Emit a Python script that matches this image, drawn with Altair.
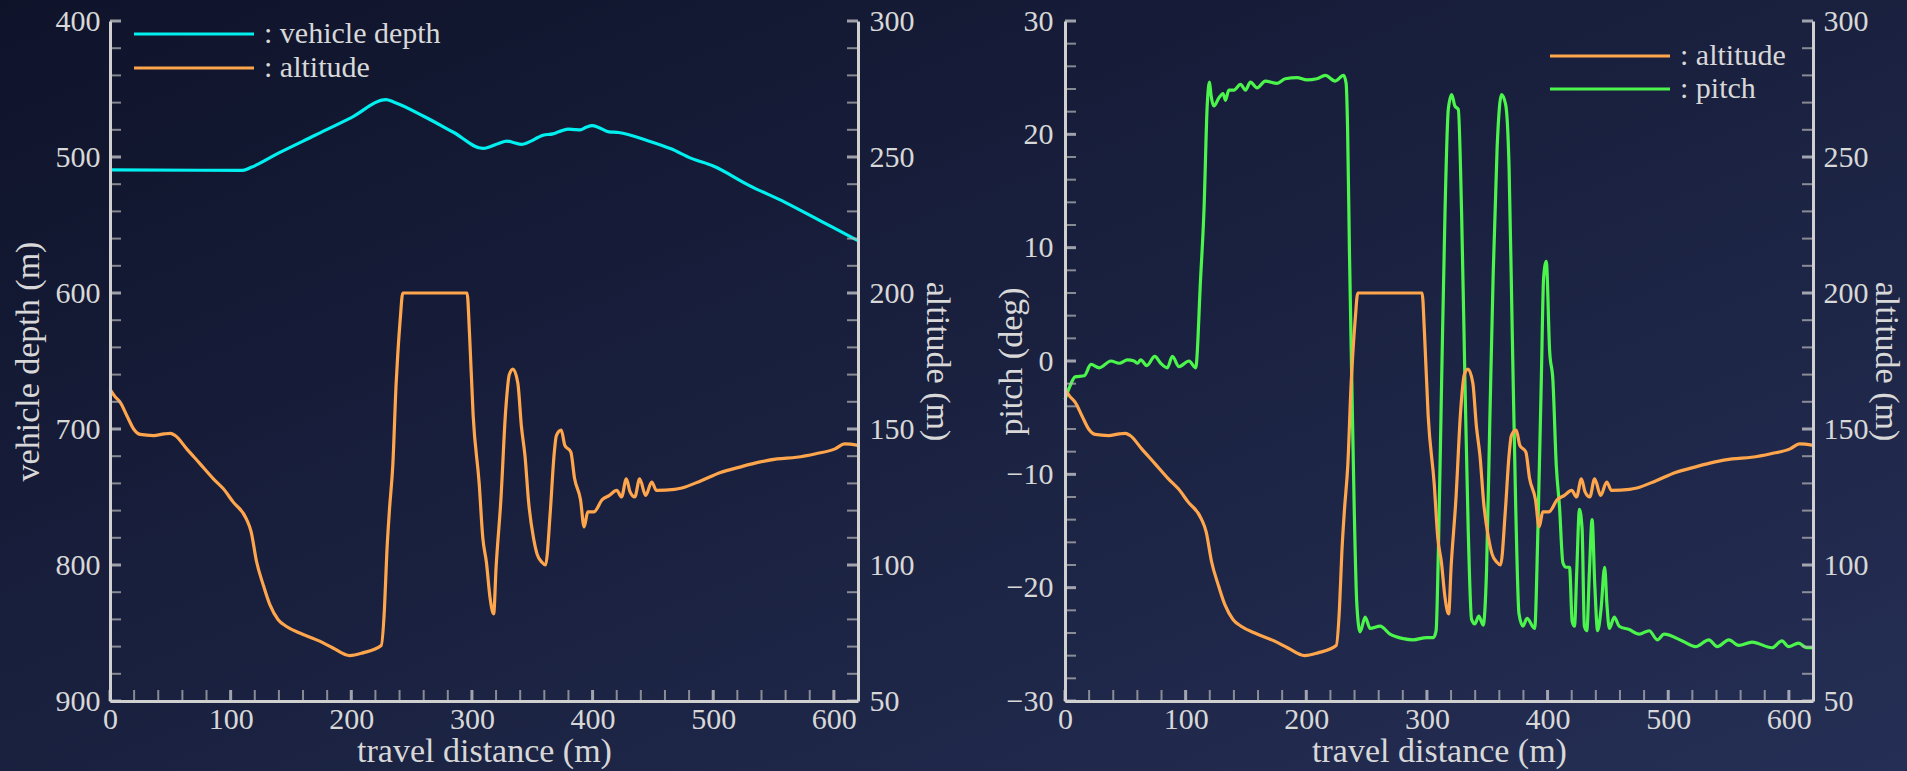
import altair as alt
import pandas as pd

# ---- series data -------------------------------------------------------
DEPTH_DIST = [0, 110, 117, 140, 170, 200, 228.8, 235, 260, 285, 309, 315, 322, 329,
              335, 341, 349, 355, 359, 367, 372, 379.6, 385, 389.6, 395, 399.5, 405.5,
              413.6, 421.6, 445.7, 465, 481.9, 500, 530, 560, 590, 618.3, 620]
DEPTH = [509.5, 509.8, 507.6, 497, 484, 471, 457.8, 459.5, 470, 482, 493.7, 492.4, 490,
         488.3, 489.5, 490.7, 488.3, 485.5, 484, 483, 481.5, 479.5, 479.8, 480, 478, 477,
         478.5, 481.5, 482, 488, 494, 501, 506.6, 521, 533.5, 547.5, 560.7, 561.5]

ALT_DIST = [0, 4, 8.5, 14, 19.6, 25, 36, 45, 50, 54, 63.6, 74.7, 85.7, 94, 102, 113, 117,
            121.5, 127, 132.5, 139.4, 146.3, 157.3, 173.8, 184.8, 198.6, 209.6, 224.8,
            227.5, 229.5, 231.7, 234.4, 237.2, 238.6, 240.5, 242.7, 296, 298, 301, 306,
            309, 312, 315, 318, 320, 324, 328, 331, 334, 338, 341, 344, 347, 351, 354,
            358, 361, 365, 368, 370, 374, 377, 382, 385, 390, 393, 396, 401, 408, 414,
            420, 424, 428, 431, 435, 439, 444, 449, 453, 468, 474, 490, 506, 522, 538,
            553, 569, 585, 601, 609, 620]
ALTITUDE = [164.6, 162, 159.8, 154.9, 150, 148, 147.6, 148.2, 148.4, 147.6, 142.7, 137.2,
            131.7, 128, 123.2, 117, 112.2, 101.2, 92.7, 85.4, 79.9, 77.4, 75, 72, 69.5,
            66.7, 67.7, 70.4, 84, 104.9, 120.7, 136.6, 167, 178, 190, 200, 200, 185, 155,
            130, 110, 101, 88, 82, 99, 124, 157, 170, 172, 167, 151, 140, 123, 110, 104,
            101, 100, 120, 140, 147.6, 149.6, 144, 141.5, 132, 124, 114, 119.5, 119.5,
            124, 125.6, 127.4, 125, 131.7, 127, 125, 131.7, 125.6, 130.5, 127.4, 127.8,
            128.3, 131, 134, 136, 137.8, 139, 139.6, 140.9, 142.7, 144.5, 144]

PITCH_DIST = [0, 4.2, 8.3, 16, 21.5, 28.4, 38, 45, 51.8, 57.3, 60, 62.8, 67.8, 74.4, 79.3,
              84.8, 89, 94.5, 102.8, 108.3, 112.4, 115.2, 117.9, 119.8, 121, 123.4, 127.5,
              131, 133, 135.8, 140, 145.5, 149.6, 153.7, 159.2, 166, 175.8, 182.6, 192.3,
              200.5, 208.8, 215.7, 224, 230.9, 233, 234.2, 235.8, 237.7, 239.7, 241.9,
              244.6, 248.8, 252.9, 261.2, 269.4, 280.4, 288.7, 299.7, 305.4, 307.6, 309.5,
              312.2, 315, 317.7, 320.5, 323.2, 326, 328.7, 331.5, 334.2, 337, 339.7, 343,
              346.6, 349.4, 352.1, 354.9, 358.2, 361.8, 365.3, 368.1, 370.8, 373.6, 376.3,
              379.6, 382.9, 389.3, 392, 394.8, 396.7, 398.9, 401.7, 404.4, 407.2, 409.9,
              412.7, 415.4, 418.2, 420.4, 422.3, 424.2, 426.4, 428.6, 430.5, 432.5, 434.7,
              436.9, 439.1, 441.5, 444.3, 447.3, 449.2, 451.2, 455.3, 459.4, 467.7, 475.9,
              484.2, 491, 496.6, 511.7, 522.7, 533.7, 540.6, 550.2, 558.5, 569.5, 586,
              594.2, 599.7, 608, 614.9, 620]
PITCH = [-3.4, -2.2, -1.4, -1.3, -0.3, -0.6, 0, -0.2, 0.1, 0, -0.2, 0.1, -0.4, 0.4, -0.2,
         -0.6, 0.4, -0.5, 0, -0.6, 7.3, 13.3, 22.6, 24.6, 23.5, 22.5, 23.2, 23.6, 23, 23.9,
         23.9, 24.4, 23.9, 24.6, 24.1, 24.7, 24.5, 24.9, 25, 24.8, 24.9, 25.2, 24.7, 25.2,
         24.5, 20.7, 9.5, -1.7, -12.9, -21.5, -23.9, -22.6, -23.6, -23.4, -24.1, -24.5,
         -24.6, -24.4, -24.4, -23.8, -16.7, -1.7, 13.2, 22.2, 23.5, 22.5, 22.2, 13.2, -1.7,
         -14.8, -22.8, -23.2, -22.5, -23.3, -18.5, -5.4, 7.6, 18.9, 23.5, 22.6, 17, 2,
         -12.9, -22.3, -23.4, -22.7, -23.6, -14.8, -1.7, 7.3, 8.8, 0.9, -1.7, -9.2, -12.9,
         -17.8, -18.2, -18.2, -23, -23.4, -18.5, -13.1, -14.8, -23.4, -23.8, -18.5, -14,
         -19.7, -23.8, -21.9, -18.2, -21.5, -23.6, -22.6, -23.4, -23.7, -24.1, -23.8, -24.6,
         -24.1, -24.7, -25.2, -24.6, -25.2, -24.6, -25.1, -24.8, -25.3, -24.7, -25.2, -24.9,
         -25.3, -25.3]

# ---- axis tick values ---------------------------------------------------
X_MAJOR = [0, 100, 200, 300, 400, 500, 600]
X_MINOR = [20, 40, 60, 80, 120, 140, 160, 180, 220, 240, 260, 280, 320, 340, 360, 380,
           420, 440, 460, 480, 520, 540, 560, 580, 620]
DEPTH_MAJOR = [400, 500, 600, 700, 800, 900]
DEPTH_MINOR = [v for v in range(420, 900, 20) if v % 100]
ALT_MAJOR = [50, 100, 150, 200, 250, 300]
ALT_MINOR = [v for v in range(60, 300, 10) if v % 50]
PITCH_MAJOR = [-30, -20, -10, 0, 10, 20, 30]
PITCH_MINOR = [v for v in range(-28, 30, 2) if v % 10]

# ---- styling -----------------------------------------------------------
W, H = 748, 680
FONT = "Liberation Serif"
TXT = "#D8D8D8"
AXC = "#D0D0D0"
C_DEPTH, C_ALT, C_PITCH = "#00F0F0", "#FFA64D", "#4CF54C"

XS = alt.Scale(domain=[0, 620], nice=False, zero=False)
S_DEPTH = alt.Scale(domain=[400, 900], reverse=True, nice=False, zero=False)
S_ALT = alt.Scale(domain=[50, 300], nice=False, zero=False)
S_PITCH = alt.Scale(domain=[-30, 30], nice=False, zero=False)


def axis(title, values, orient, extent, title_pad, label_pad, title_size=34):
    return alt.Axis(
        title=title, values=values, orient=orient, ticks=False, grid=False,
        domainColor=AXC, domainWidth=3, labelColor=TXT, labelFont=FONT, labelFontSize=30,
        labelPadding=label_pad, labelFlush=False, labelOverlap=False,
        titleColor=TXT, titleFont=FONT, titleFontSize=title_size, titleFontWeight="normal",
        titlePadding=title_pad, minExtent=extent, maxExtent=extent, zindex=1,
    )


# one shared x axis definition, given to every layer that uses the x scale
X_AXIS = axis("travel distance (m)", X_MAJOR, "bottom", 31, 2, 3)

# legend key: a 120 px horizontal stroke drawn from a custom path
KEY_PATH = "M-1,0L7,0"


def legend(x, y, row_pad):
    return alt.Legend(
        orient="none", legendX=x, legendY=y, title=None, symbolType=KEY_PATH,
        symbolSize=900, symbolStrokeWidth=3.2, labelFont=FONT, labelFontSize=30,
        labelColor=TXT, labelExpr="': ' + datum.label", labelLimit=400,
        rowPadding=row_pad, padding=0, labelOffset=98, zindex=1,
    )


def backdrop():
    # diagonal gradient spanning the whole figure, drawn first
    grad = alt.LinearGradient(
        gradient="linear",
        stops=[alt.GradientStop(color="#0F132A", offset=0),
               alt.GradientStop(color="#252F55", offset=1)],
        x1=0, y1=0, x2=1, y2=1,
    )
    return alt.Chart(alt.Data(values=[{}])).mark_rect(fill=grad).encode(
        x=alt.value(-110), x2=alt.value(1797), y=alt.value(-21), y2=alt.value(750)
    )


def yticks(values, scale, side, major):
    xpos = 5.5 if side == "left" else W - 5.5
    return alt.Chart(pd.DataFrame({"v": values})).mark_tick(
        orient="horizontal", size=11, thickness=3 if major else 2,
        color="#DADADA" if major else "#B8B8B8",
    ).encode(y=alt.Y("v:Q", scale=scale, axis=None), x=alt.value(xpos))


def xticks(values, major):
    return alt.Chart(pd.DataFrame({"v": values})).mark_tick(
        orient="vertical", size=11, thickness=3 if major else 2,
        color="#DADADA" if major else "#B8B8B8",
    ).encode(x=alt.X("v:Q", scale=XS, axis=X_AXIS), y=alt.value(H - 5.5))


def series_line(dist, vals, name, yscale, yaxis, cscale, leg):
    df = pd.DataFrame({"dist": dist, "value": vals, "series": name})
    return alt.Chart(df).mark_line(strokeWidth=3.2, interpolate="monotone").encode(
        x=alt.X("dist:Q", scale=XS, axis=X_AXIS),
        y=alt.Y("value:Q", scale=yscale, axis=yaxis),
        color=alt.Color("series:N", scale=cscale, legend=leg),
    )


# Every y-using layer carries an explicit scale domain, so the independent
# y scales of the tick layers coincide exactly with the scale of their series.

# ---- left panel: vehicle depth and altitude ----------------------------
cs_left = alt.Scale(domain=["vehicle depth", "altitude"], range=[C_DEPTH, C_ALT])
leg_left = legend(22, -4, 2)

left = alt.layer(
    backdrop(),
    series_line(DEPTH_DIST, DEPTH, "vehicle depth", S_DEPTH,
                axis("vehicle depth (m)", DEPTH_MAJOR, "left", 52, 13, 10),
                cs_left, leg_left),
    series_line(ALT_DIST, ALTITUDE, "altitude", S_ALT,
                axis("altitude (m)", ALT_MAJOR, "right", 55, 6, 11),
                cs_left, leg_left),
    yticks(DEPTH_MAJOR, S_DEPTH, "left", True),
    yticks(DEPTH_MINOR, S_DEPTH, "left", False),
    yticks(ALT_MAJOR, S_ALT, "right", True),
    yticks(ALT_MINOR, S_ALT, "right", False),
    xticks(X_MAJOR, True),
    xticks(X_MINOR, False),
).resolve_scale(y="independent").properties(width=W, height=H)

# ---- right panel: pitch and altitude -----------------------------------
cs_right = alt.Scale(domain=["altitude", "pitch"], range=[C_ALT, C_PITCH])
leg_right = legend(483, 18, 1)

right = alt.layer(
    series_line(PITCH_DIST, PITCH, "pitch", S_PITCH,
                axis("pitch (deg)", PITCH_MAJOR, "left", 34, 3, 12),
                cs_right, leg_right),
    series_line(ALT_DIST, ALTITUDE, "altitude", S_ALT,
                axis("altitude (m)", ALT_MAJOR, "right", 54, 1, 10),
                cs_right, leg_right),
    yticks(PITCH_MAJOR, S_PITCH, "left", True),
    yticks(PITCH_MINOR, S_PITCH, "left", False),
    yticks(ALT_MAJOR, S_ALT, "right", True),
    yticks(ALT_MINOR, S_ALT, "right", False),
    xticks(X_MAJOR, True),
    xticks(X_MINOR, False),
).resolve_scale(y="independent").properties(width=W, height=H)

chart = (
    alt.hconcat(left, right, spacing=207, bounds="flush")
    .resolve_scale(color="independent", y="independent")
    .properties(padding=0, background="#1A2040")
    .configure_view(stroke=None)
)

chart.save("out.html", embed_options={"renderer": "svg", "actions": False})
